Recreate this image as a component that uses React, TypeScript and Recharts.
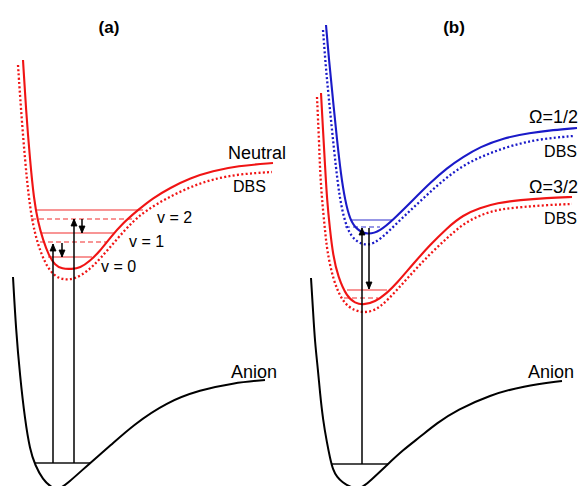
import React from 'react';
import { ComposedChart, Line, Scatter, XAxis, YAxis } from 'recharts';

type P = { x: number; y: number };
const pts = (a: number[][]): P[] => a.map(([x, y]) => ({ x, y }));

// ---- Panel (a) curves (x = distance, y = energy, drawn downward) ----
const neutralA = pts([
  [23, 60], [26, 110], [30, 160], [34, 200], [38, 222], [43, 240], [49, 256], [55, 265], [62, 269],
  [72, 269], [80, 268], [90, 261], [100, 251], [110, 238], [123, 223], [138, 210], [153, 198],
  [170, 188], [190, 178], [213, 171], [237, 166], [273, 163],
]);
const dbsA = pts([
  [18, 65], [21, 110], [25, 160], [29, 200], [33, 225], [38, 245], [45, 263], [53, 275], [63, 280],
  [75, 279], [88, 271], [100, 259], [117, 239], [133, 221], [147, 210], [167, 198], [190, 187],
  [213, 179], [240, 174], [272, 172],
]);
const anionA = pts([
  [13, 277], [16, 330], [20, 376], [25, 420], [30, 450], [35, 465], [43, 480], [51, 487], [58, 490],
  [67, 484], [90, 463], [110, 446], [133, 425], [167, 402], [200, 390], [233, 383], [265, 380],
]);

// ---- Panel (b) curves ----
const omegaHalf = pts([
  [326, 25], [329, 60], [333, 100], [337, 140], [341, 175], [345, 200], [350, 220], [357, 230],
  [368, 235], [380, 231], [393, 220], [413, 200], [430, 183], [447, 168], [463, 157], [480, 147],
  [503, 138], [530, 133], [553, 130], [577, 128],
]);
const dbsHalf = pts([
  [323, 30], [326, 70], [330, 110], [334, 150], [338, 185], [341, 205], [347, 230], [356, 242],
  [368, 246], [380, 240], [397, 223], [413, 208], [430, 192], [447, 177], [467, 163], [490, 153],
  [513, 145], [540, 139], [573, 136],
]);
const omegaThreeHalf = pts([
  [321, 93], [323, 130], [325, 165], [327, 200], [330, 230], [333, 255], [338, 277], [347, 297],
  [355, 303], [363, 305], [375, 302], [387, 293], [397, 283], [413, 264], [430, 245], [447, 228],
  [463, 215], [480, 208], [497, 203], [520, 200], [547, 198], [572, 197],
]);
const dbsThreeHalf = pts([
  [317, 97], [319, 140], [320, 170], [322, 200], [325, 230], [327, 250], [333, 280], [343, 303],
  [355, 311], [367, 313], [380, 308], [397, 290], [413, 272], [430, 254], [447, 238], [463, 224],
  [480, 215], [500, 209], [523, 207], [547, 205], [572, 204],
]);
const anionB = pts([
  [311, 278], [313, 310], [315, 343], [318, 370], [320, 393], [323, 420], [327, 443], [330, 458],
  [333, 470], [337, 477], [342, 482], [350, 487], [358, 489], [364, 486], [370, 481], [387, 465],
  [403, 450], [420, 437], [437, 423], [457, 410], [490, 395], [523, 386], [562, 381],
]);

// ---- vibrational levels: [energy, xStart, xEnd] ----
const redSolidLevels = [[210, 36, 143], [233, 42, 115], [257, 48, 92], [290, 347, 387]];
const redDashedLevels = [[219, 31, 135], [242, 40, 107], [298, 344, 378]];
const blueSolidLevels = [[220, 350, 392]];
const blueDashedLevels = [[227, 345, 380]];
const anionLevels = [[463, 35, 90], [464, 332, 388]];

// ---- transitions: [x, from, to] ----
const transitions = [
  [53, 463, 244], [74, 463, 219], [82, 219, 233], [62, 243, 257], [362, 464, 228], [369, 228, 289],
];

// ---- text labels: [text, x, y, kind] ----
const labels: [string, number, number, string][] = [
  ['(a)', 109, 33, 'title'], ['(b)', 454, 33, 'title'],
  ['Neutral', 228, 159, 'big'], ['DBS', 233, 192, 'small'],
  ['v = 2', 157, 223, 'small'], ['v = 1', 129, 247, 'small'], ['v = 0', 101, 272, 'small'],
  ['Anion', 231, 378, 'big'], ['Anion', 528, 378, 'big'],
  ['Ω=1/2', 578, 123, 'bigEnd'], ['DBS', 577, 157, 'smallEnd'],
  ['Ω=3/2', 578, 193, 'bigEnd'], ['DBS', 577, 224, 'smallEnd'],
];

const RED = '#f01414';
const BLUE = '#1a1ac8';
const FONT = '"Liberation Sans", Arial, sans-serif';

const seg = (l: number[]): P[] => [{ x: l[1], y: l[0] }, { x: l[2], y: l[0] }];

const labelStyle: Record<string, any> = {
  title: { fontSize: 17, fontWeight: 700, textAnchor: 'middle' },
  big: { fontSize: 18, textAnchor: 'start' },
  small: { fontSize: 16, textAnchor: 'start' },
  bigEnd: { fontSize: 18, textAnchor: 'end' },
  smallEnd: { fontSize: 16, textAnchor: 'end' },
};

const LabelShape = (props: any) => {
  const { cx, cy, payload } = props;
  const st = labelStyle[payload.kind];
  return (
    <text x={cx} y={cy} fill="#000" fontFamily={FONT} fontSize={st.fontSize} fontWeight={st.fontWeight || 400} textAnchor={st.textAnchor}>
      {payload.text}
    </text>
  );
};

const makeHead = (up: boolean) => (props: any) => {
  const { cx, cy, index } = props;
  if (index !== 1) return <g key={`h${index}`} />;
  const d = up ? `M${cx},${cy} L${cx - 3},${cy + 7} L${cx + 3},${cy + 7} Z` : `M${cx},${cy} L${cx - 3},${cy - 7} L${cx + 3},${cy - 7} Z`;
  return <path key={`h${index}`} d={d} fill="#000" stroke="#000" strokeWidth={0.8} />;
};

const common = { dataKey: 'y', dot: false, activeDot: false, legendType: 'none', isAnimationActive: false } as any;

export default function App() {
  const labelData = labels.map(([text, x, y, kind]) => ({ text, x, y, kind }));
  return (
    <div style={{ position: 'absolute', left: 0, top: 0, width: 581, height: 486, background: '#fff' }}>
      <ComposedChart width={581} height={486} margin={{ top: 0, right: 0, bottom: 0, left: 0 }}>
        <XAxis type="number" dataKey="x" domain={[0, 581]} hide allowDataOverflow />
        <YAxis type="number" domain={[0, 486]} reversed hide allowDataOverflow />

        {redSolidLevels.map((l, i) => (
          <Line key={`rs${i}`} {...common} data={seg(l)} type="linear" stroke={RED} strokeOpacity={0.9} strokeWidth={1.2} />
        ))}
        {redDashedLevels.map((l, i) => (
          <Line key={`rd${i}`} {...common} data={seg(l)} type="linear" stroke={RED} strokeOpacity={0.9} strokeWidth={1.2} strokeDasharray="5 3" />
        ))}
        {blueSolidLevels.map((l, i) => (
          <Line key={`bs${i}`} {...common} data={seg(l)} type="linear" stroke={BLUE} strokeOpacity={0.9} strokeWidth={1.2} />
        ))}
        {blueDashedLevels.map((l, i) => (
          <Line key={`bd${i}`} {...common} data={seg(l)} type="linear" stroke={BLUE} strokeOpacity={0.9} strokeWidth={1.2} strokeDasharray="5 3" />
        ))}
        {anionLevels.map((l, i) => (
          <Line key={`al${i}`} {...common} data={seg(l)} type="linear" stroke="#111" strokeWidth={1.4} />
        ))}

        <Line {...common} data={dbsA} type="basis" stroke={RED} strokeWidth={2.3} strokeDasharray="2 2.3" />
        <Line {...common} data={neutralA} type="basis" stroke={RED} strokeWidth={2.1} />
        <Line {...common} data={anionA} type="basis" stroke="#000" strokeWidth={2} />

        <Line {...common} data={dbsHalf} type="basis" stroke={BLUE} strokeWidth={2.3} strokeDasharray="2 2.3" />
        <Line {...common} data={omegaHalf} type="basis" stroke={BLUE} strokeWidth={2.1} />
        <Line {...common} data={dbsThreeHalf} type="basis" stroke={RED} strokeWidth={2.3} strokeDasharray="2 2.3" />
        <Line {...common} data={omegaThreeHalf} type="basis" stroke={RED} strokeWidth={2.1} />
        <Line {...common} data={anionB} type="basis" stroke="#000" strokeWidth={2} />

        {transitions.map((t, i) => (
          <Line key={`tr${i}`} {...common} data={[{ x: t[0], y: t[1] }, { x: t[0], y: t[2] }]} type="linear" stroke="#000" strokeWidth={1.5} dot={makeHead(t[2] < t[1])} />
        ))}

        <Scatter data={labelData} dataKey="y" shape={LabelShape} isAnimationActive={false} legendType="none" />
      </ComposedChart>
    </div>
  );
}
